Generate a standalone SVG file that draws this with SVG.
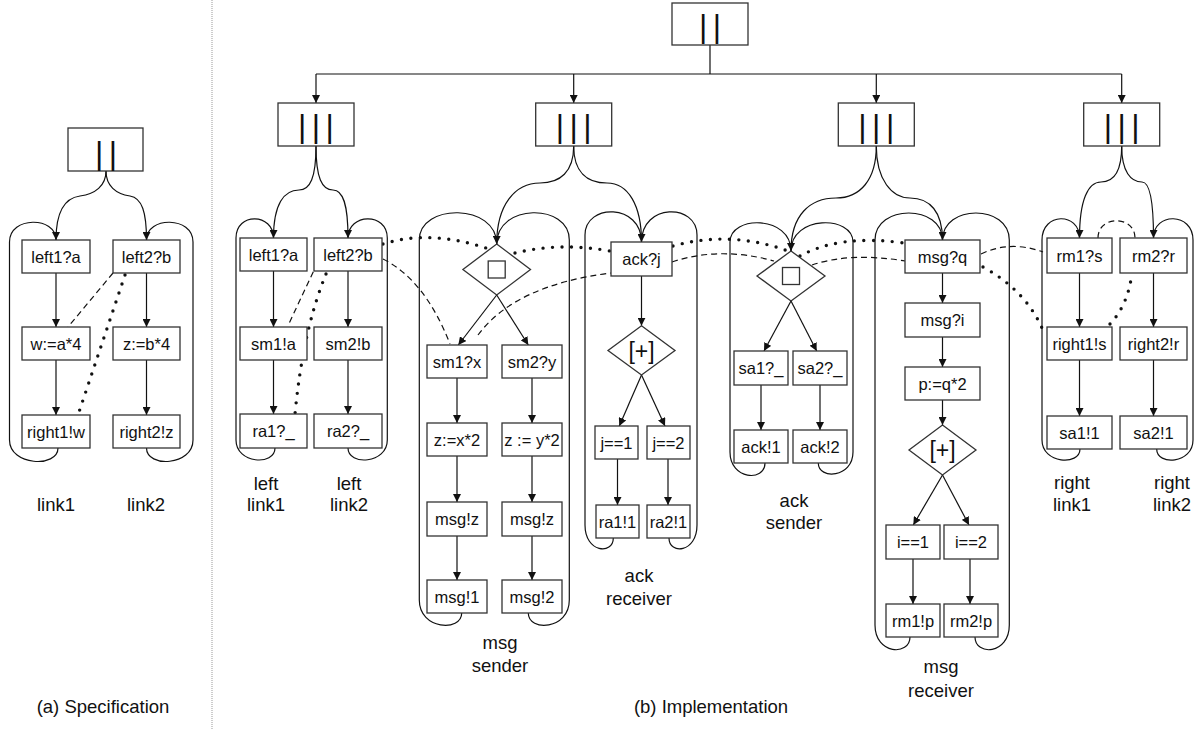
<svg xmlns="http://www.w3.org/2000/svg" width="1204" height="729" viewBox="0 0 1204 729">
<defs>
<marker id="ah" viewBox="0 0 10 10" refX="10" refY="5" markerWidth="8" markerHeight="8" markerUnits="userSpaceOnUse" orient="auto"><path d="M0,0 L10,5 L0,10 z" fill="#111"/></marker>
<style>
.box{fill:#fff;stroke:#333;stroke-width:1.3}
.ln{fill:none;stroke:#111;stroke-width:1.2}
.ar{fill:none;stroke:#111;stroke-width:1.2;marker-end:url(#ah)}
.dash{fill:none;stroke:#111;stroke-width:1.2;stroke-dasharray:6 4}
.dot{fill:none;stroke:#111;stroke-width:3.4;stroke-dasharray:0 9.5;stroke-linecap:round}
.t{font-family:"Liberation Sans",Arial,sans-serif;font-size:16.5px;text-anchor:middle;fill:#111}
.lb{font-family:"Liberation Sans",Arial,sans-serif;font-size:18.5px;text-anchor:middle;fill:#111}
.op{font-family:"Liberation Sans",Arial,sans-serif;font-size:32px;letter-spacing:5.5px;text-anchor:middle;fill:#111}
.pl{font-family:"Liberation Sans",Arial,sans-serif;font-size:23px;text-anchor:middle;fill:#111}
</style>
</defs>
<rect width="1204" height="729" fill="#fff"/>
<line x1="212" y1="0" x2="212" y2="729" stroke="#999" stroke-width="1" stroke-dasharray="1 1"/>

<g id="connectors">
<path class="ar" d="M106,171 C106,186 95,194 80,196 C65,198 56,212 56,240"/>
<path class="ar" d="M106,171 C106,186 116,194 130,196 C142,198 146.5,212 146.5,240"/>
<path class="ln" d="M56,240 C56,216 9.5,216 9.5,242 L9.5,440 C9.5,466 58,468 58,448"/>
<path class="ln" d="M146.5,240 C146.5,216 193,216 193,242 L193,440 C193,466 146.5,468 146.5,448"/>
<path class="ar" d="M56,273 L56,327"/>
<path class="ar" d="M56,360 L56,415"/>
<path class="ar" d="M146.5,273 L146.5,327"/>
<path class="ar" d="M146.5,360 L146.5,415"/>
<path class="dash" d="M113,273 L68,327"/>
<path class="dot" d="M125,275 L78,415"/>

<path class="ln" d="M710,45 L710,74 M316,74 L1121.7,74"/>
<path class="ar" d="M316,74 L316,103"/>
<path class="ar" d="M573.7,74 L573.7,103"/>
<path class="ar" d="M876.3,74 L876.3,103"/>
<path class="ar" d="M1121.7,74 L1121.7,103"/>

<path class="ar" d="M316,146 C316,178 310,190 299,190 C284,190 273.5,204 273.5,238"/>
<path class="ar" d="M316,146 C316,178 322,190 333,190 C343,190 348,204 348,238"/>
<path class="ln" d="M273.5,238 C273.5,213 236,212 236,238 L236,440 C236,464 275,466 275,448"/>
<path class="ln" d="M348,238 C348,213 387.3,212 387.3,238 L387.3,440 C387.3,464 348,466 348,448"/>
<path class="ar" d="M273.5,271 L273.5,327"/>
<path class="ar" d="M273.5,360 L273.5,414"/>
<path class="ar" d="M348,271 L348,327"/>
<path class="ar" d="M348,360 L348,414"/>
<path class="dash" d="M313.3,271.7 L288.3,325"/>
<path class="dot" d="M326,274 Q303,330 295,414"/>

<path class="ar" d="M573.7,146 C573.7,172 560,183 540,183 C515,183 496.7,205 496.7,244"/>
<path class="ar" d="M573.7,146 C573.7,172 587,183 607,183 C628,183 641.5,205 641.5,242"/>
<path class="ln" d="M496.7,244 C496.7,203 419.3,203 419.3,240 L419.3,600 C419.3,630 461.7,632 461.7,613"/>
<path class="ln" d="M496.7,244 C496.7,203 569.3,203 569.3,240 L569.3,600 C569.3,630 528.3,632 528.3,613"/>
<path class="ar" d="M496.7,295 L458.3,345"/>
<path class="ar" d="M496.7,295 L528.3,345"/>
<path class="ar" d="M457,378 L457,423"/>
<path class="ar" d="M457,456 L457,502"/>
<path class="ar" d="M457,536 L457,580"/>
<path class="ar" d="M532,378 L532,423"/>
<path class="ar" d="M532,456 L532,502"/>
<path class="ar" d="M532,536 L532,580"/>

<path class="ln" d="M641.5,242 C641.5,203 585,203 585,235 L585,525 C585,553 613.3,555 613.3,538"/>
<path class="ln" d="M641.5,242 C641.5,203 697,203 697,235 L697,525 C697,553 669,555 669,538"/>
<path class="ar" d="M641.5,276 L641.5,325.7"/>
<path class="ar" d="M641.5,375 L619.3,426"/>
<path class="ar" d="M641.5,375 L665,426"/>
<path class="ar" d="M617.5,459 L617.5,505"/>
<path class="ar" d="M668,459 L668,505"/>

<path class="ar" d="M876.3,146 C876.3,180 860,198 836,198 C810,198 791,215 791,251"/>
<path class="ar" d="M876.3,146 C876.3,180 892,198 910,198 C930,198 942.5,212 942.5,240"/>
<path class="ln" d="M791,251 C791,215 730,215 730,242 L730,452 C730,480 765,482 765,463"/>
<path class="ln" d="M791,251 C791,215 853,215 853,242 L853,452 C853,478 818.3,480 818.3,463"/>
<path class="ar" d="M791,301 L764,351"/>
<path class="ar" d="M791,301 L816.7,351"/>
<path class="ar" d="M761,385 L761,430"/>
<path class="ar" d="M820,385 L820,430"/>

<path class="ln" d="M942.5,240 C942.5,204 875,204 875,240 L875,625 C875,655 910,656 910,637"/>
<path class="ln" d="M942.5,240 C942.5,204 1009.3,204 1009.3,240 L1009.3,625 C1009.3,655 975,656 975,637"/>
<path class="ar" d="M942.5,273 L942.5,303"/>
<path class="ar" d="M942.5,337 L942.5,367"/>
<path class="ar" d="M942.5,400 L942.5,425"/>
<path class="ar" d="M942.5,475 L913.3,525"/>
<path class="ar" d="M942.5,475 L969,525"/>
<path class="ar" d="M913,559 L913,604"/>
<path class="ar" d="M970,559 L970,604"/>

<path class="ar" d="M1121.7,146 C1121.7,172 1113,182 1101,182 C1088,182 1079.5,200 1079.5,238"/>
<path class="ar" d="M1121.7,146 C1121.7,172 1131,182 1142,182 C1150,182 1153.5,200 1153.5,238"/>
<path class="ln" d="M1079.5,238 C1079.5,212 1042,212 1042,240 L1042,440 C1042,464 1080,466 1080,449"/>
<path class="ln" d="M1153.5,238 C1153.5,212 1193,212 1193,240 L1193,440 C1193,464 1156.7,466 1156.7,449"/>
<path class="ar" d="M1079.5,273 L1079.5,327"/>
<path class="ar" d="M1079.5,360 L1079.5,416"/>
<path class="ar" d="M1153.5,273 L1153.5,327"/>
<path class="ar" d="M1153.5,360 L1153.5,416"/>

<path class="dot" d="M383,244 Q430,229 489,249"/>
<path class="dot" d="M515,253 Q560,242 610,251"/>
<path class="dot" d="M673,246 Q730,230 788,251"/>
<path class="dot" d="M800,256 Q840,234 904,243"/>
<path class="dot" d="M983,267 Q1025,290 1042,328"/>
<path class="dot" d="M1110,324 Q1128,305 1132,273"/>

<path class="dash" d="M383,259 Q425,280 450,344"/>
<path class="dash" d="M478,335 Q515,285 611,273"/>
<path class="dash" d="M672,262 Q720,246 774,261"/>
<path class="dash" d="M812,265 Q850,252 905,261"/>
<path class="dash" d="M981,254 Q1010,240 1043,252"/>
<path class="dash" d="M1098,238 C1098,215 1135,215 1135,238"/>
</g>

<g id="spec-par"><rect class="box" x="68" y="128" width="75" height="43"/><text class="op" x="108.7" y="163.5">||</text></g>
<g id="spec-left1a"><rect class="box" x="22" y="240" width="68" height="33"/><text class="t" x="56" y="262.5">left1?a</text></g>
<g id="spec-left2b"><rect class="box" x="113" y="240" width="67" height="33"/><text class="t" x="146.5" y="262.5">left2?b</text></g>
<g id="spec-w"><rect class="box" x="22" y="327" width="68" height="33"/><text class="t" x="56" y="349.5">w:=a*4</text></g>
<g id="spec-z"><rect class="box" x="113" y="327" width="67" height="33"/><text class="t" x="146.5" y="349.5">z:=b*4</text></g>
<g id="spec-right1w"><rect class="box" x="22" y="415" width="68" height="33"/><text class="t" x="56" y="437.5">right1!w</text></g>
<g id="spec-right2z"><rect class="box" x="113" y="415" width="67" height="33"/><text class="t" x="146.5" y="437.5">right2!z</text></g>
<g id="spec-labels"><text class="lb" x="56" y="511">link1</text><text class="lb" x="146" y="511">link2</text></g>

<g id="impl-par"><rect class="box" x="672" y="3" width="76" height="42"/><text class="op" x="712.7" y="37">||</text></g>
<g id="par1"><rect class="box" x="278" y="103" width="76" height="43"/><text class="op" x="318.7" y="137">|||</text></g>
<g id="par2"><rect class="box" x="535.7" y="103" width="76" height="43"/><text class="op" x="576.4" y="137">|||</text></g>
<g id="par3"><rect class="box" x="838.3" y="103" width="76" height="43"/><text class="op" x="879" y="137">|||</text></g>
<g id="par4"><rect class="box" x="1083.7" y="103" width="76" height="43"/><text class="op" x="1124.4" y="137">|||</text></g>

<g id="ll-left1a"><rect class="box" x="240" y="238" width="67" height="33"/><text class="t" x="273.5" y="260.5">left1?a</text></g>
<g id="ll-left2b"><rect class="box" x="314" y="238" width="68" height="33"/><text class="t" x="348" y="260.5">left2?b</text></g>
<g id="ll-sm1a"><rect class="box" x="240" y="327" width="67" height="33"/><text class="t" x="273.5" y="349.5">sm1!a</text></g>
<g id="ll-sm2b"><rect class="box" x="314" y="327" width="68" height="33"/><text class="t" x="348" y="349.5">sm2!b</text></g>
<g id="ll-ra1"><rect class="box" x="240" y="414" width="67" height="34"/><text class="t" x="273.5" y="437">ra1?_</text></g>
<g id="ll-ra2"><rect class="box" x="314" y="414" width="68" height="34"/><text class="t" x="348" y="437">ra2?_</text></g>
<g id="ll-labels"><text class="lb" x="266" y="490">left</text><text class="lb" x="266" y="511">link1</text><text class="lb" x="349" y="490">left</text><text class="lb" x="349" y="511">link2</text></g>

<g id="ms-choice"><polygon class="box" points="496.7,244 530.5,269.5 496.7,295 462.9,269.5"/><rect class="box" x="488.2" y="261" width="17" height="17"/></g>
<g id="ms-sm1x"><rect class="box" x="427" y="345" width="60" height="33"/><text class="t" x="457" y="367.5">sm1?x</text></g>
<g id="ms-sm2y"><rect class="box" x="502" y="345" width="60" height="33"/><text class="t" x="532" y="367.5">sm2?y</text></g>
<g id="ms-zx"><rect class="box" x="427" y="423" width="60" height="33"/><text class="t" x="457" y="445.5">z:=x*2</text></g>
<g id="ms-zy"><rect class="box" x="502" y="423" width="60" height="33"/><text class="t" x="532" y="445.5">z := y*2</text></g>
<g id="ms-msgz1"><rect class="box" x="427" y="502" width="60" height="34"/><text class="t" x="457" y="525">msg!z</text></g>
<g id="ms-msgz2"><rect class="box" x="502" y="502" width="60" height="34"/><text class="t" x="532" y="525">msg!z</text></g>
<g id="ms-msg1"><rect class="box" x="427" y="580" width="60" height="33"/><text class="t" x="457" y="602.5">msg!1</text></g>
<g id="ms-msg2"><rect class="box" x="502" y="580" width="60" height="33"/><text class="t" x="532" y="602.5">msg!2</text></g>
<g id="ms-label"><text class="lb" x="500" y="649">msg</text><text class="lb" x="500" y="672">sender</text></g>

<g id="ar-ackj"><rect class="box" x="611" y="242" width="61" height="34"/><text class="t" x="641.5" y="265">ack?j</text></g>
<g id="ar-plus"><polygon class="box" points="641.5,325.7 675,350.5 641.5,375 608,350.5"/><text class="pl" x="641.5" y="358.5">[+]</text></g>
<g id="ar-j1"><rect class="box" x="595" y="426" width="43" height="33"/><text class="t" x="616.5" y="448.5">j==1</text></g>
<g id="ar-j2"><rect class="box" x="647" y="426" width="43" height="33"/><text class="t" x="668.5" y="448.5">j==2</text></g>
<g id="ar-ra11"><rect class="box" x="596" y="505" width="43" height="33"/><text class="t" x="617.5" y="527.5">ra1!1</text></g>
<g id="ar-ra21"><rect class="box" x="647" y="505" width="43" height="33"/><text class="t" x="668.5" y="527.5">ra2!1</text></g>
<g id="ar-label"><text class="lb" x="639" y="582">ack</text><text class="lb" x="639" y="605">receiver</text></g>

<g id="as-choice"><polygon class="box" points="791,251 825,276 791,301 757,276"/><rect class="box" x="782.5" y="267.5" width="17" height="17"/></g>
<g id="as-sa1"><rect class="box" x="734" y="351" width="54" height="34"/><text class="t" x="761" y="374">sa1?_</text></g>
<g id="as-sa2"><rect class="box" x="793" y="351" width="54" height="34"/><text class="t" x="820" y="374">sa2?_</text></g>
<g id="as-ack1"><rect class="box" x="734" y="430" width="54" height="33"/><text class="t" x="761" y="452.5">ack!1</text></g>
<g id="as-ack2"><rect class="box" x="793" y="430" width="54" height="33"/><text class="t" x="820" y="452.5">ack!2</text></g>
<g id="as-label"><text class="lb" x="794" y="507">ack</text><text class="lb" x="794" y="529">sender</text></g>

<g id="mr-msgq"><rect class="box" x="905" y="240" width="75" height="33"/><text class="t" x="942.5" y="262.5">msg?q</text></g>
<g id="mr-msgi"><rect class="box" x="905" y="303" width="75" height="34"/><text class="t" x="942.5" y="326">msg?i</text></g>
<g id="mr-p"><rect class="box" x="905" y="367" width="75" height="33"/><text class="t" x="942.5" y="389.5">p:=q*2</text></g>
<g id="mr-plus"><polygon class="box" points="942.5,425 976,450 942.5,475 909,450"/><text class="pl" x="942.5" y="458">[+]</text></g>
<g id="mr-i1"><rect class="box" x="886" y="525" width="54" height="34"/><text class="t" x="913" y="548">i==1</text></g>
<g id="mr-i2"><rect class="box" x="944" y="525" width="54" height="34"/><text class="t" x="971" y="548">i==2</text></g>
<g id="mr-rm1p"><rect class="box" x="886" y="604" width="54" height="33"/><text class="t" x="913" y="626.5">rm1!p</text></g>
<g id="mr-rm2p"><rect class="box" x="944" y="604" width="54" height="33"/><text class="t" x="971" y="626.5">rm2!p</text></g>
<g id="mr-label"><text class="lb" x="941" y="673">msg</text><text class="lb" x="941" y="697">receiver</text></g>

<g id="rl-rm1s"><rect class="box" x="1047" y="238" width="65" height="35"/><text class="t" x="1079.5" y="261.5">rm1?s</text></g>
<g id="rl-rm2r"><rect class="box" x="1120" y="238" width="67" height="35"/><text class="t" x="1153.5" y="261.5">rm2?r</text></g>
<g id="rl-right1s"><rect class="box" x="1047" y="327" width="65" height="33"/><text class="t" x="1079.5" y="349.5">right1!s</text></g>
<g id="rl-right2r"><rect class="box" x="1120" y="327" width="67" height="33"/><text class="t" x="1153.5" y="349.5">right2!r</text></g>
<g id="rl-sa11"><rect class="box" x="1047" y="416" width="65" height="33"/><text class="t" x="1079.5" y="438.5">sa1!1</text></g>
<g id="rl-sa21"><rect class="box" x="1120" y="416" width="67" height="33"/><text class="t" x="1153.5" y="438.5">sa2!1</text></g>
<g id="rl-labels"><text class="lb" x="1072" y="489">right</text><text class="lb" x="1072" y="511">link1</text><text class="lb" x="1172" y="489">right</text><text class="lb" x="1172" y="511">link2</text></g>

<g id="captions"><text class="lb" x="103" y="713">(a) Specification</text><text class="lb" x="711" y="713">(b) Implementation</text></g>
</svg>
